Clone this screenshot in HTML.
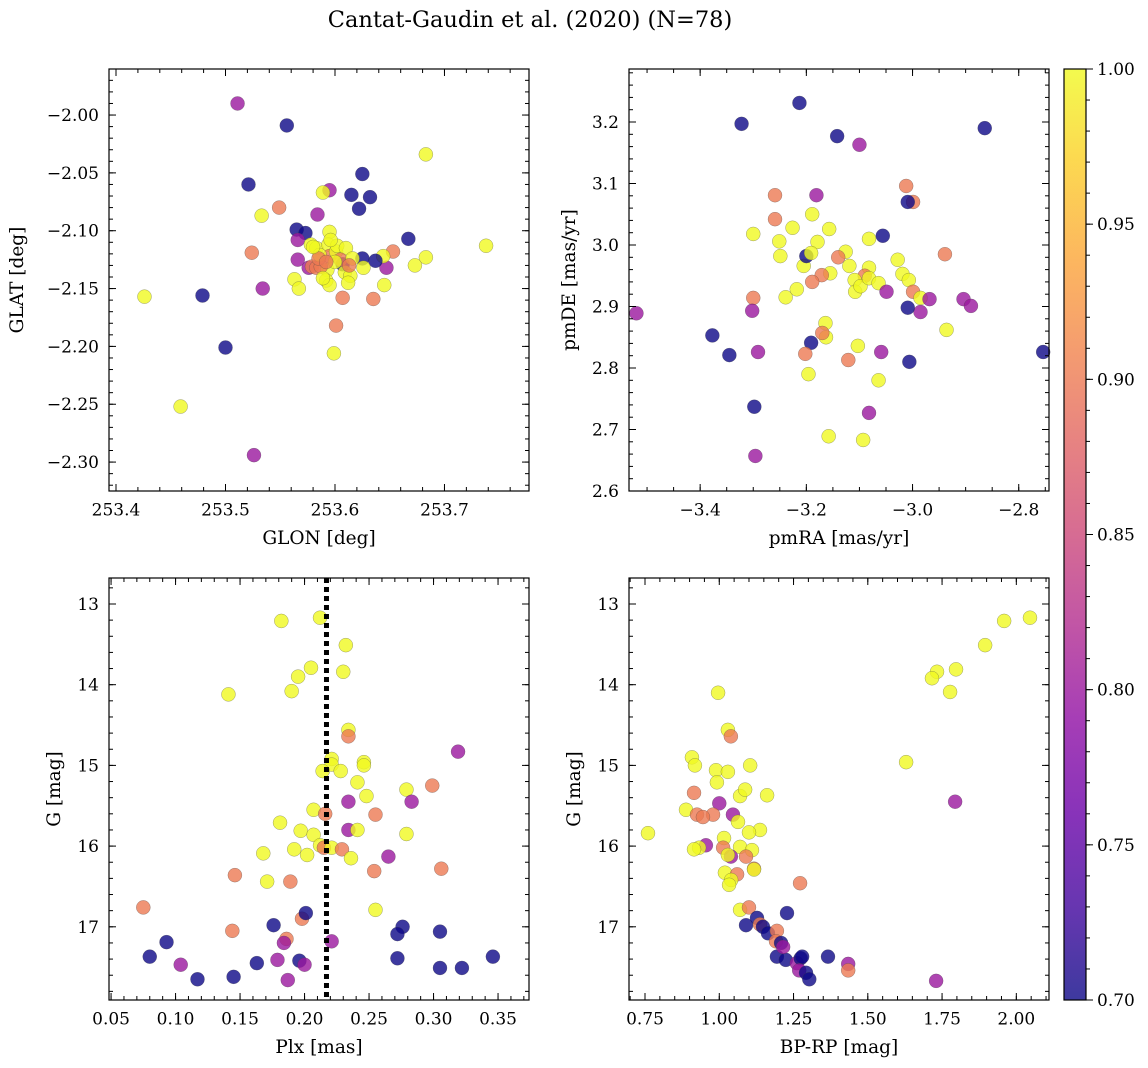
<!DOCTYPE html>
<html>
<head>
<meta charset="utf-8">
<style>
html,body{margin:0;padding:0;background:#fff;}
svg{display:block;font-family:"DejaVu Serif","Liberation Serif",serif;}
</style>
</head>
<body>
<svg id="fig" width="1148" height="1068" viewBox="0 0 1148 1068" xmlns="http://www.w3.org/2000/svg">
<defs>
<linearGradient id="plasma" x1="0" y1="1" x2="0" y2="0">
<stop offset="0" stop-color="#0d0887"/><stop offset="0.1" stop-color="#41049d"/>
<stop offset="0.2" stop-color="#6a00a8"/><stop offset="0.3" stop-color="#8f0da4"/>
<stop offset="0.4" stop-color="#b12a90"/><stop offset="0.5" stop-color="#cc4778"/>
<stop offset="0.6" stop-color="#e16462"/><stop offset="0.7" stop-color="#f2844b"/>
<stop offset="0.8" stop-color="#fca636"/><stop offset="0.9" stop-color="#fcce25"/>
<stop offset="1" stop-color="#f0f921"/>
</linearGradient>
</defs>
<text x="530" y="27" text-anchor="middle" font-size="22.5">Cantat-Gaudin et al. (2020) (N=78)</text>
</svg>
<script>
// ---- Panel 1: sky position ----
const p1Glon=[253.511,253.556,253.521,253.533,253.549,253.524,253.534,253.426,253.479,253.500,253.459,253.526,253.683,253.625,253.632,253.615,253.622,253.595,253.589,253.565,253.573,253.566,253.584,253.667,253.738,253.683,253.673,253.653,253.647,253.645,253.635,253.644,253.637,253.625,253.626,253.566,253.576,253.563,253.567,253.579,253.583,253.578,253.583,253.595,253.594,253.595,253.593,253.592,253.595,253.587,253.601,253.602,253.610,253.607,253.609,253.614,253.612,253.607,253.601,253.599,253.586,253.585,253.589,253.605,253.616,253.613,253.600,253.592,253.580,253.596];
const p1Glat=[-1.990,-2.009,-2.060,-2.087,-2.080,-2.119,-2.150,-2.157,-2.156,-2.201,-2.252,-2.294,-2.034,-2.051,-2.071,-2.069,-2.081,-2.065,-2.067,-2.099,-2.102,-2.108,-2.086,-2.107,-2.113,-2.123,-2.130,-2.118,-2.132,-2.147,-2.159,-2.122,-2.126,-2.124,-2.132,-2.125,-2.132,-2.142,-2.150,-2.131,-2.132,-2.112,-2.115,-2.101,-2.112,-2.122,-2.134,-2.143,-2.147,-2.131,-2.118,-2.113,-2.115,-2.129,-2.136,-2.139,-2.145,-2.158,-2.182,-2.206,-2.121,-2.124,-2.141,-2.125,-2.124,-2.130,-2.127,-2.127,-2.114,-2.108];
const p1Prob=[.80,.70,.70,1,.9,.9,.8,1,.7,.7,1,.8,1,.7,.7,.7,.7,.8,1,.7,.7,.8,.8,.7,1,1,1,.9,.8,1,.9,1,.7,.7,1,.8,.8,1,1,.9,.9,1,1,1,1,.9,1,1,1,.9,1,1,1,.7,1,1,1,.9,.9,1,1,.9,1,.9,1,.9,1,.9,1,1];
// ---- Panel 2: proper motions ----
const p2Pmra=[-3.322,-3.213,-3.142,-3.100,-2.864,-3.259,-3.181,-3.012,-2.999,-3.009,-3.300,-3.259,-3.226,-3.189,-3.157,-3.179,-3.251,-3.249,-3.205,-3.200,-3.191,-3.126,-3.140,-3.119,-3.155,-3.171,-3.189,-3.082,-3.056,-3.082,-3.090,-3.109,-3.108,-3.098,-3.082,-3.064,-3.049,-3.028,-3.019,-3.007,-2.999,-2.939,-2.985,-2.968,-2.985,-2.904,-2.890,-2.936,-3.009,-3.006,-3.059,-3.064,-3.121,-3.103,-3.164,-3.163,-3.170,-3.191,-3.202,-3.196,-3.239,-3.218,-3.300,-3.302,-3.291,-3.345,-3.377,-3.520,-3.298,-3.296,-3.158,-3.082,-3.093,-2.754];
const p2Pmde=[3.197,3.231,3.177,3.163,3.190,3.081,3.081,3.096,3.070,3.070,3.018,3.042,3.028,3.050,3.026,3.005,3.006,2.982,2.966,2.982,2.987,2.989,2.980,2.966,2.954,2.951,2.940,3.010,3.015,2.963,2.950,2.943,2.924,2.933,2.946,2.938,2.924,2.976,2.953,2.943,2.924,2.985,2.914,2.912,2.891,2.912,2.901,2.862,2.898,2.810,2.826,2.780,2.813,2.836,2.873,2.850,2.857,2.841,2.823,2.790,2.915,2.928,2.914,2.893,2.826,2.821,2.853,2.889,2.737,2.657,2.689,2.727,2.683,2.826];
const p2Prob=[.7,.7,.7,.8,.7,.9,.8,.9,.9,.7,1,.9,1,1,1,1,1,1,1,.7,1,1,.9,1,1,.9,.9,1,.7,1,.9,1,1,1,1,1,.8,1,1,1,.9,.9,1,.8,.8,.8,.8,1,.7,.7,.8,1,.9,1,1,1,.9,.7,.9,1,1,1,.9,.8,.8,.7,.7,.8,.7,.8,1,.8,1,.7];
// ---- Panel 3: parallax vs G ----
const p3Plx=[0.182,0.212,0.232,0.141,0.195,0.205,0.190,0.230,0.234,0.234,0.221,0.221,0.214,0.228,0.241,0.246,0.246,0.248,0.279,0.299,0.255,0.234,0.241,0.207,0.216,0.181,0.197,0.207,0.212,0.215,0.221,0.229,0.236,0.192,0.202,0.168,0.279,0.283,0.234,0.254,0.265,0.306,0.319,0.171,0.189,0.146,0.255,0.075,0.144,0.198,0.201,0.176,0.186,0.184,0.221,0.093,0.080,0.104,0.117,0.145,0.163,0.179,0.196,0.200,0.187,0.276,0.272,0.272,0.305,0.305,0.322,0.346];
const p3G=[13.21,13.17,13.51,14.12,13.90,13.79,14.08,13.84,14.56,14.64,14.92,14.99,15.07,15.07,15.21,14.96,15.00,15.38,15.30,15.25,15.61,15.80,15.80,15.55,15.60,15.71,15.81,15.86,15.99,16.02,16.02,16.04,16.15,16.04,16.11,16.09,15.85,15.45,15.45,16.31,16.13,16.28,14.83,16.44,16.44,16.36,16.79,16.76,17.05,16.90,16.83,16.98,17.15,17.20,17.18,17.19,17.37,17.47,17.65,17.62,17.45,17.41,17.42,17.47,17.66,17.00,17.09,17.39,17.06,17.51,17.51,17.37];
const p3Prob=[1,1,1,1,1,1,1,1,1,.9,1,1,1,1,1,1,1,1,1,.9,.9,.8,1,1,.9,1,1,1,1,.9,1,.9,1,1,1,1,1,.8,.8,.9,.8,.9,.8,1,.9,.9,1,.9,.9,.9,.7,.7,.9,.8,.8,.7,.7,.8,.7,.7,.7,.8,.7,.8,.8,.7,.7,.7,.7,.7,.7,.7];
const p3MeanPlx=0.217;
// ---- Panel 4: CMD ----
const p4Bprp=[2.046,1.959,1.895,1.797,1.733,1.716,1.777,0.996,1.029,1.039,1.629,1.794,1.730,0.908,0.918,0.989,1.029,1.104,0.992,1.070,1.087,1.161,0.915,1.000,0.979,0.888,0.925,0.945,1.046,1.063,1.137,1.100,1.016,0.760,0.955,0.932,0.915,1.013,1.070,1.039,1.029,1.110,1.090,1.117,1.117,1.019,1.060,1.040,1.033,1.272,1.070,1.100,1.228,1.090,1.127,1.137,1.147,1.164,1.194,1.191,1.208,1.194,1.224,1.261,1.274,1.279,1.269,1.292,1.303,1.215,1.366,1.434,1.434];
const p4G=[13.17,13.21,13.51,13.81,13.84,13.92,14.09,14.10,14.56,14.64,14.96,15.45,17.67,14.90,15.00,15.06,15.08,15.00,15.21,15.38,15.30,15.37,15.34,15.47,15.61,15.55,15.61,15.64,15.61,15.70,15.80,15.83,15.90,15.84,15.99,16.02,16.04,16.02,16.01,16.13,16.11,16.05,16.13,16.28,16.29,16.33,16.35,16.42,16.48,16.46,16.79,16.76,16.83,16.98,16.89,16.97,17.00,17.08,17.05,17.18,17.20,17.37,17.41,17.45,17.39,17.37,17.54,17.57,17.65,17.25,17.37,17.46,17.54];
const p4Prob=[1,1,1,1,1,1,1,1,1,.9,1,.8,.8,1,1,1,1,1,1,1,1,1,.9,.8,.9,1,.9,.9,.8,1,1,1,1,1,.8,1,1,.9,1,.8,1,1,.9,.9,1,1,.9,1,1,.9,1,.9,.7,.7,.7,.9,.7,.7,.9,.9,.7,.7,.7,.8,.7,.7,.8,.7,.7,.8,.7,.8,.9];
const cbarTicks=[0.70,0.75,0.80,0.85,0.90,0.95,1.00];

const NS="http://www.w3.org/2000/svg";
const svg=document.getElementById('fig');
function mk(tag,attrs,parent){const e=document.createElementNS(NS,tag);for(const k in attrs)e.setAttribute(k,attrs[k]);(parent||svg).appendChild(e);return e;}
const stops=[[13,8,135],[65,4,157],[106,0,168],[143,13,164],[177,42,144],[204,71,120],[225,100,98],[242,132,75],[252,166,54],[252,206,37],[240,249,33]];
function plasma(p){let t=Math.max(0,Math.min(1,(p-0.7)/0.3))*10;const i=Math.min(9,Math.floor(t)),f=t-i;const a=stops[i],b=stops[i+1];return 'rgb('+a.map((v,k)=>Math.round(v+(b[k]-v)*f)).join(',')+')';}
function fmtNum(v,d){const s=Math.abs(v).toFixed(d);return (v<-1e-9?'\u2212':'')+s;}
function ticks(lo,hi,step){const out=[];for(let k=Math.ceil(lo/step-1e-6);k*step<=hi+1e-9;k++)out.push(k*step);return out;}

function panel(cfg){
  const g=mk('g',{});
  
  
  const b=cfg.box;
  const sx=v=>b.x0+(v-cfg.xd[0])/(cfg.xd[1]-cfg.xd[0])*(b.x1-b.x0);
  const syy=cfg.invY?(v=>b.y0+(v-cfg.yd[0])/(cfg.yd[1]-cfg.yd[0])*(b.y1-b.y0)):(v=>b.y1-(v-cfg.yd[0])/(cfg.yd[1]-cfg.yd[0])*(b.y1-b.y0));
  const pts=mk('g',{},g);
  
  
  for(let i=0;i<cfg.xs.length;i++){
    const c=mk('circle',{cx:sx(cfg.xs[i]),cy:syy(cfg.ys[i]),r:7,fill:plasma(cfg.ps[i]),'fill-opacity':0.8,stroke:'#444','stroke-width':0.5,'stroke-opacity':0.5},pts);
    
    
  }
  if(cfg.vline!==undefined){
    const l=mk('line',{x1:sx(cfg.vline),x2:sx(cfg.vline),y1:b.y0,y2:b.y1,stroke:'#000','stroke-width':5,'stroke-dasharray':'5,4'},g);
    
    
  }
  const fr=mk('rect',{x:b.x0,y:b.y0,width:b.x1-b.x0,height:b.y1-b.y0,fill:'none',stroke:'#000','stroke-width':1.2},g);
  
  
  const tk=mk('g',{stroke:'#000','stroke-width':1},g);
  
  
  ticks(cfg.xd[0],cfg.xd[1],cfg.xmin).forEach(v=>{const x=sx(v);mk('line',{x1:x,x2:x,y1:b.y1,y2:b.y1-4},tk);mk('line',{x1:x,x2:x,y1:b.y0,y2:b.y0+4},tk);});
  ticks(cfg.yd[0],cfg.yd[1],cfg.ymin).forEach(v=>{const y=syy(v);mk('line',{x1:b.x0,x2:b.x0+4,y1:y,y2:y},tk);mk('line',{x1:b.x1,x2:b.x1-4,y1:y,y2:y},tk);});
  ticks(cfg.xd[0],cfg.xd[1],cfg.xmaj).forEach(v=>{const x=sx(v);mk('line',{x1:x,x2:x,y1:b.y1,y2:b.y1-7},tk);mk('line',{x1:x,x2:x,y1:b.y0,y2:b.y0+7},tk);
    const t=mk('text',{x:x,y:b.y1+24.5,'text-anchor':'middle','font-size':17,stroke:'none',fill:'#000'},g);t.textContent=fmtNum(v,cfg.xdec);
    });
  ticks(cfg.yd[0],cfg.yd[1],cfg.ymaj).forEach(v=>{const y=syy(v);mk('line',{x1:b.x0,x2:b.x0+7,y1:y,y2:y},tk);mk('line',{x1:b.x1,x2:b.x1-7,y1:y,y2:y},tk);
    const t=mk('text',{x:b.x0-10,y:y+6,'text-anchor':'end','font-size':17,fill:'#000'},g);t.textContent=fmtNum(v,cfg.ydec);
    });
  const xl=mk('text',{x:(b.x0+b.x1)/2,y:b.y1+53,'text-anchor':'middle','font-size':18.5},g);xl.textContent=cfg.xlabel;
  
  const yl=mk('text',{x:0,y:0,'text-anchor':'middle','font-size':18.5,transform:'translate('+cfg.ylx+','+((b.y0+b.y1)/2)+') rotate(-90)'},g);yl.textContent=cfg.ylabel;
  
}

panel({name:'panel-sky-position',box:{x0:109,x1:529,y0:69,y1:491},xd:[253.3936,253.7772],yd:[-2.325,-1.9602],xs:p1Glon,ys:p1Glat,ps:p1Prob,xmaj:0.1,xmin:0.02,ymaj:0.05,ymin:0.01,xdec:1,ydec:2,xlabel:'GLON [deg]',ylabel:'GLAT [deg]',ylx:23});
panel({name:'panel-proper-motion',box:{x0:629,x1:1049,y0:69,y1:491},xd:[-3.534,-2.743],yd:[2.6,3.2862],xs:p2Pmra,ys:p2Pmde,ps:p2Prob,xmaj:0.2,xmin:0.05,ymaj:0.1,ymin:0.02,xdec:1,ydec:1,xlabel:'pmRA [mas/yr]',ylabel:'pmDE [mas/yr]',ylx:575});
panel({name:'panel-parallax-magnitude',box:{x0:109,x1:529,y0:578,y1:1000},xd:[0.0484,0.374],yd:[12.678,17.907],invY:true,xs:p3Plx,ys:p3G,ps:p3Prob,vline:p3MeanPlx,xmaj:0.05,xmin:0.01,ymaj:1,ymin:0.2,xdec:2,ydec:0,xlabel:'Plx [mas]',ylabel:'G [mag]',ylx:60});
panel({name:'panel-color-magnitude',box:{x0:629,x1:1049,y0:578,y1:1000},xd:[0.6961,2.110],yd:[12.678,17.907],invY:true,xs:p4Bprp,ys:p4G,ps:p4Prob,xmaj:0.25,xmin:0.05,ymaj:1,ymin:0.2,xdec:2,ydec:0,xlabel:'BP-RP [mag]',ylabel:'G [mag]',ylx:580});

const cb=mk('g',{});


const cbx0=1064,cbx1=1086,cby0=69,cby1=1000;
mk('rect',{x:cbx0,y:cby0,width:cbx1-cbx0,height:cby1-cby0,fill:'url(#plasma)','fill-opacity':0.8},cb);
mk('rect',{x:cbx0,y:cby0,width:cbx1-cbx0,height:cby1-cby0,fill:'none',stroke:'#000','stroke-width':1.2},cb);
const cy=v=>cby1-(v-0.7)/0.3*(cby1-cby0);
ticks(0.7,1.0,0.01).forEach(v=>{mk('line',{x1:cbx1,x2:cbx1+4,y1:cy(v),y2:cy(v),stroke:'#000'},cb);});
cbarTicks.forEach(v=>{mk('line',{x1:cbx1,x2:cbx1+7,y1:cy(v),y2:cy(v),stroke:'#000'},cb);
  const t=mk('text',{x:cbx1+11,y:cy(v)+6,'font-size':17},cb);t.textContent=v.toFixed(2);
  });
</script>
</body>
</html>
